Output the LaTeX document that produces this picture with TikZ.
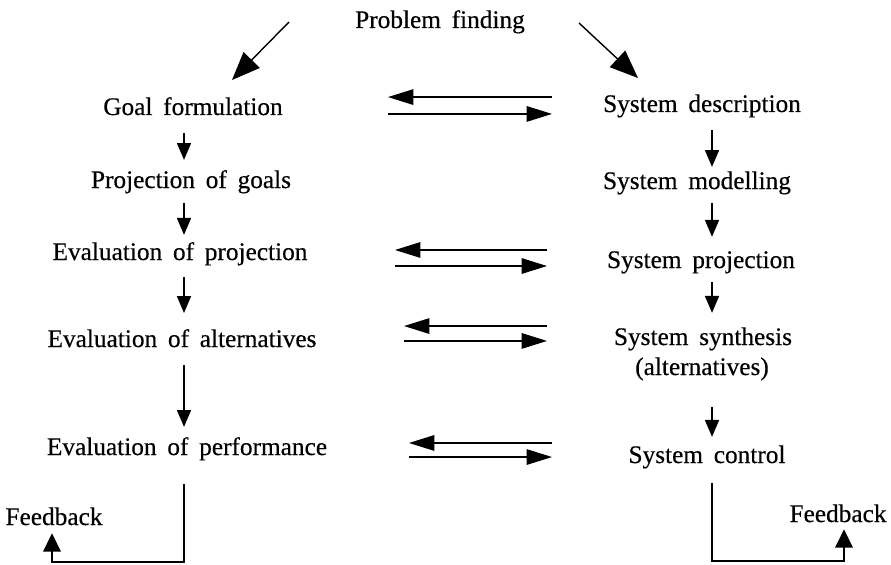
\documentclass[tikz,border=0pt]{standalone}
\usepackage{fontspec}
\setmainfont{Liberation Serif}[WordSpace=1.7, FakeBold=0.4]
\usetikzlibrary{arrows.meta, calc}

\begin{document}
\begin{tikzpicture}[x=0.025cm, y=-0.025cm,
  lbl/.style={anchor=base, inner sep=0pt, text height=12pt, text depth=4pt, font=\fontsize{18}{22}\selectfont},
  vstep/.style={line width=1pt, -{Triangle[length=12pt, width=10pt]}},
  hstep/.style={line width=1pt, -{Triangle[length=18pt, width=11pt]}},
  bigstep/.style={line width=1pt, -{Triangle[length=20pt, width=16pt]}},
  fbstep/.style={line width=1pt, -{Triangle[length=13pt, width=12.5pt]}}]
  \useasboundingbox (0,0) rectangle (891,564);

  % Top
  \node[lbl] (prob) at (440,28) {Problem finding};

  % Left column: goals
  \node[lbl] (goal)  at (193,115) {Goal formulation};
  \node[lbl] (proj)  at (191,188) {Projection of goals};
  \node[lbl] (evalp) at (180,260) {Evaluation of projection};
  \node[lbl] (evala) at (182,347) {Evaluation of alternatives};
  \node[lbl] (perf)  at (187,455) {Evaluation of performance};
  \node[lbl] (fbL)   at (54,525)  {Feedback};

  % Right column: system
  \node[lbl] (desc)    at (702,112) {System description};
  \node[lbl] (model)   at (697,189) {System modelling};
  \node[lbl] (sysproj) at (701,268) {System projection};
  \node[lbl] (synth)   at (703,345) {System synthesis};
  \node[lbl] (alt)     at (702,375) {(alternatives)};
  \node[lbl] (ctrl)    at (707,463) {System control};
  \node[lbl] (fbR)     at (838,522) {Feedback};

  \coordinate (colL) at (184,0);
  \coordinate (colR) at (712,0);

  % From problem finding
  \coordinate (pfl) at (289,22);
  \coordinate (gtip) at (232,80);
  \coordinate (pfr) at (579,23);
  \coordinate (dtip) at (638,78);
  \draw[bigstep] (pfl) -- (gtip);
  \draw[bigstep] (pfr) -- (dtip);

  % Left chain
  \draw[vstep, shorten <=8.7pt, shorten >=7.8pt] (goal.south -| colL) -- (proj.north -| colL);
  \draw[vstep, shorten <=6.6pt, shorten >=5.7pt] (proj.south -| colL) -- (evalp.north -| colL);
  \draw[vstep, shorten <=8pt, shorten >=12pt] (evalp.south -| colL) -- (evala.north -| colL);
  \draw[vstep, shorten <=8.7pt, shorten >=7.8pt] (evala.south -| colL) -- (perf.north -| colL);

  % Right chain
  \draw[vstep, shorten <=8.7pt, shorten >=3.5pt] (desc.south -| colR) -- (model.north -| colR);
  \draw[vstep, shorten <=6pt, shorten >=10pt] (model.south -| colR) -- (sysproj.north -| colR);
  \draw[vstep, shorten <=6pt, shorten >=10.7pt] (sysproj.south -| colR) -- (synth.north -| colR);
  \draw[vstep, shorten <=18.8pt, shorten >=6.4pt] (alt.south -| colR) -- (ctrl.north -| colR);

  % Exchanges between the columns
  \coordinate (h1l) at (388,105.5); \coordinate (h1r) at (552,105.5);
  \coordinate (h2l) at (395,258);   \coordinate (h2r) at (547,258);
  \coordinate (h3l) at (404,333.5); \coordinate (h3r) at (547,333.5);
  \coordinate (h4l) at (409,450);   \coordinate (h4r) at (552,450);
  \draw[hstep] ([yshift=6pt]h1r) -- ([yshift=6pt]h1l);
  \draw[hstep] ([yshift=-6pt]h1l) -- ([yshift=-6pt]h1r);
  \draw[hstep] ([yshift=5.7pt]h2r) -- ([yshift=5.7pt]h2l);
  \draw[hstep] ([yshift=-5.7pt]h2l) -- ([yshift=-5.7pt]h2r);
  \draw[hstep] ([yshift=5.3pt]h3r) -- ([yshift=5.3pt]h3l);
  \draw[hstep] ([yshift=-5.3pt]h3l) -- ([yshift=-5.3pt]h3r);
  \draw[hstep] ([yshift=5pt]h4r) -- ([yshift=5pt]h4l);
  \draw[hstep] ([yshift=-5pt]h4l) -- ([yshift=-5pt]h4r);

  % Feedback loops
  \coordinate (botL) at (52,562);
  \coordinate (botR) at (844,561);
  \draw[fbstep, shorten <=16.6pt, shorten >=1.7pt] (perf.south -| colL) |- (botL) -- (botL |- fbL.south);
  \draw[fbstep, shorten <=10.2pt, shorten >=1pt] (ctrl.south -| colR) |- (botR) -- (botR |- fbR.south);
\end{tikzpicture}
\end{document}
